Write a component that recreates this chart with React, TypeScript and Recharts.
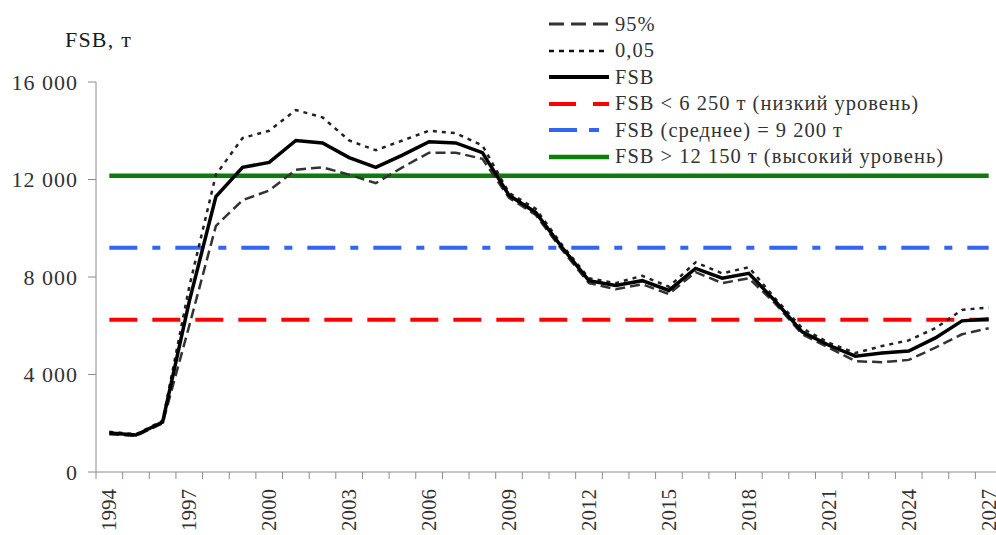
import { Line, LineChart, ReferenceLine, XAxis, YAxis } from "recharts"

const years = [
  1994, 1995, 1996, 1997, 1998, 1999, 2000, 2001, 2002, 2003, 2004, 2005,
  2006, 2007, 2008, 2009, 2010, 2011, 2012, 2013, 2014, 2015, 2016, 2017,
  2018, 2019, 2020, 2021, 2022, 2023, 2024, 2025, 2026, 2027,
]

const fsb = [
  1600, 1520, 2050, 7000, 11300, 12500, 12700, 13600, 13500, 12900, 12500, 13000,
  13550, 13500, 13100, 11350, 10650, 9200, 7850, 7650, 7850, 7450, 8350, 7950,
  8150, 7000, 5750, 5200, 4750, 4880, 4960, 5500, 6200, 6280,
]

// верхняя граница (0,05)
const upper = [
  1650, 1550, 2100, 7600, 12200, 13700, 14000, 14850, 14550, 13600, 13200, 13600,
  14000, 13900, 13400, 11450, 10800, 9300, 7950, 7750, 8050, 7600, 8600, 8150,
  8400, 7100, 5900, 5300, 4880, 5170, 5400, 5900, 6650, 6750,
]

// нижняя граница (95%)
const lower = [
  1550, 1480, 2000, 6000, 10100, 11150, 11550, 12400, 12500, 12200, 11850, 12500,
  13100, 13100, 12850, 11250, 10550, 9100, 7750, 7500, 7700, 7300, 8200, 7750,
  7950, 6900, 5650, 5100, 4550, 4500, 4600, 5100, 5650, 5900,
]

const yearLabels = [1994, 1997, 2000, 2003, 2006, 2009, 2012, 2015, 2018, 2021, 2024, 2027]
const yTicks = [0, 4000, 8000, 12000, 16000]

const lowLevel = 6250
const meanLevel = 9200
const highLevel = 12150

const legendItems = [
  { name: "95%", color: "#333", width: 3, dash: "15 7" },
  { name: "0,05", color: "#111", width: 2.5, dash: "5 5" },
  { name: "FSB", color: "#000", width: 4, dash: undefined },
  { name: "FSB < 6 250 т (низкий уровень)", color: "#ff0000", width: 4, dash: "27 17" },
  { name: "FSB (среднее) = 9 200 т", color: "#3366ee", width: 4, dash: "28 12 10 20" },
  { name: "FSB > 12 150 т (высокий уровень)", color: "#0a7d0a", width: 4.5, dash: undefined },
]

const data = years.map((year, i) => ({ year, fsb: fsb[i], p05: upper[i], p95: lower[i] }))

// деления на границах лет, подписи в серединах
const xTicks = [...years.map((y) => y - 0.5), years[years.length - 1] + 0.5, ...yearLabels]

const font = "Liberation Serif, DejaVu Serif, serif"
const axisGray = "#8c8c8c"

const fmt = (v: number) => String(v).replace(/\B(?=(\d{3})+(?!\d))/g, " ")

function XTick(props: any) {
  const { x, y, payload } = props
  const v = payload.value
  if (yearLabels.includes(v)) {
    return (
      <text
        transform={`translate(${x},${y + 17}) rotate(-90)`}
        textAnchor="end"
        dominantBaseline="central"
        style={{ fontFamily: font }}
        fontSize={21}
        fill="#333"
      >
        {v}
      </text>
    )
  }
  return <line x1={x} x2={x} y1={y} y2={y + 7} stroke={axisGray} strokeWidth={1} />
}

function LegendBox() {
  return (
    <div style={{ position: "absolute", left: 549, top: 11, fontSize: 20.5, letterSpacing: 1, color: "#333" }}>
      {legendItems.map((it) => (
        <div key={it.name} style={{ display: "flex", alignItems: "center", height: 26.5 }}>
          <svg width={62} height={10} style={{ marginRight: 4 }}>
            <line x1={0} x2={60} y1={5} y2={5} stroke={it.color} strokeWidth={it.width} strokeDasharray={it.dash} />
          </svg>
          <span style={{ whiteSpace: "nowrap" }}>{it.name}</span>
        </div>
      ))}
    </div>
  )
}

export default function App() {
  return (
    <div style={{ position: "absolute", left: 0, top: 0, width: 996, height: 535, overflow: "hidden", background: "#fff", fontFamily: font }}>
      <div style={{ position: "absolute", left: 65, top: 29, fontSize: 22, letterSpacing: 1.2, color: "#1a1a1a", lineHeight: 1 }}>
        FSB, т
      </div>
      <LineChart width={1010} height={535} data={data} margin={{ top: 82, right: 8, left: 0, bottom: 0 }} style={{ fontFamily: font }}>
        <XAxis
          dataKey="year"
          type="number"
          domain={[1993.5, 2027.5]}
          ticks={xTicks}
          interval={0}
          tick={<XTick />}
          tickLine={false}
          tickSize={0}
          tickMargin={0}
          axisLine={{ stroke: axisGray }}
          height={63}
        />
        <YAxis
          domain={[0, 16000]}
          ticks={yTicks}
          interval={0}
          width={96}
          tickFormatter={fmt}
          tickSize={8}
          tickMargin={10}
          tickLine={{ stroke: axisGray }}
          axisLine={{ stroke: axisGray }}
          tick={{ fontSize: 22, fill: "#333", style: { fontFamily: font, letterSpacing: 1 } }}
        />
        <ReferenceLine segment={[{ x: years[0], y: lowLevel }, { x: years[years.length - 1], y: lowLevel }]} stroke="#ff0000" strokeWidth={4} strokeDasharray="28 15" />
        <ReferenceLine segment={[{ x: years[0], y: meanLevel }, { x: years[years.length - 1], y: meanLevel }]} stroke="#3366ee" strokeWidth={4} strokeDasharray="28 15 8 15" />
        <ReferenceLine segment={[{ x: years[0], y: highLevel }, { x: years[years.length - 1], y: highLevel }]} stroke="#0a7d0a" strokeWidth={4.5} />
        <Line dataKey="p95" stroke="#333" strokeWidth={2.5} strokeDasharray="10 5" dot={false} isAnimationActive={false} />
        <Line dataKey="p05" stroke="#222" strokeWidth={2.5} strokeDasharray="4 5" dot={false} isAnimationActive={false} />
        <Line dataKey="fsb" stroke="#000" strokeWidth={3.5} dot={false} isAnimationActive={false} />
      </LineChart>
      <LegendBox />
    </div>
  )
}
